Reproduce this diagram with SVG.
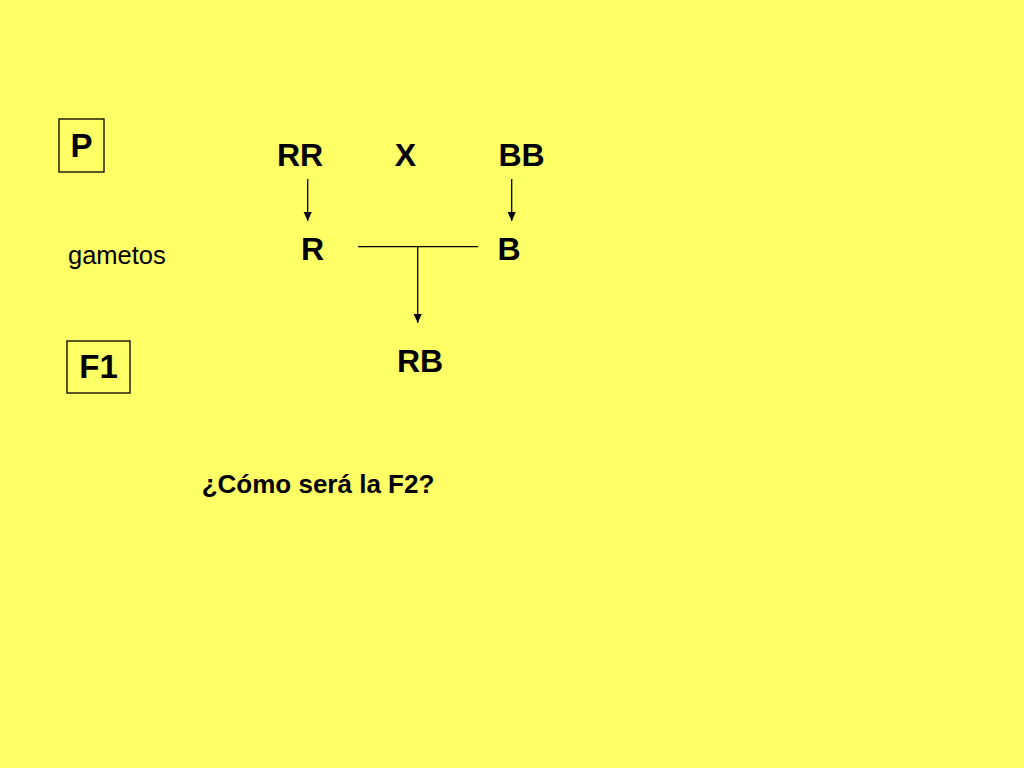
<svg xmlns="http://www.w3.org/2000/svg" width="1024" height="768" viewBox="0 0 1024 768">
<style>
.t{font-family:"Liberation Sans",Arial,sans-serif;font-weight:bold;fill:#000;text-anchor:middle}
.big{font-size:32px}
.lbl{font-size:33px}
.ln{stroke:#000;stroke-width:1.3;fill:none}
.box{fill:none;stroke:#000;stroke-width:1.3}
</style>
<defs>
<marker id="ah" viewBox="0 0 10 10" refX="10" refY="5" markerWidth="9" markerHeight="9" markerUnits="userSpaceOnUse" orient="auto">
<path d="M0,0.5 L10,5 L0,9.5 z" fill="#000"/>
</marker>
</defs>
<rect width="1024" height="768" fill="#FFFF66"/>
<g id="label-P"><rect class="box" x="59" y="119" width="45" height="53"/><text class="t lbl" x="81.5" y="157">P</text></g>
<g id="label-gametos"><text x="68" y="264" font-family="Liberation Sans, Arial, sans-serif" font-size="25.5" fill="#000">gametos</text></g>
<g id="label-F1"><rect class="box" x="67" y="341" width="63" height="52"/><text class="t lbl" x="98.5" y="378">F1</text></g>
<g id="node-RR"><text class="t big" x="300" y="166">RR</text></g>
<g id="node-X"><text class="t big" x="405.5" y="166">X</text></g>
<g id="node-BB"><text class="t big" x="521.5" y="166">BB</text></g>
<g id="node-R"><text class="t big" x="312.5" y="260">R</text></g>
<g id="node-B"><text class="t big" x="509" y="260">B</text></g>
<g id="node-RB"><text class="t big" x="420" y="372">RB</text></g>
<g id="question"><text class="t" x="318" y="493" font-size="26">¿Cómo será la F2?</text></g>
<g id="connectors">
<line class="ln" x1="307.7" y1="179" x2="307.7" y2="221" marker-end="url(#ah)"/>
<line class="ln" x1="511.7" y1="179" x2="511.7" y2="221" marker-end="url(#ah)"/>
<line class="ln" x1="358" y1="246.7" x2="478" y2="246.7"/>
<line class="ln" x1="417.7" y1="246.7" x2="417.7" y2="323" marker-end="url(#ah)"/>
</g>
</svg>
